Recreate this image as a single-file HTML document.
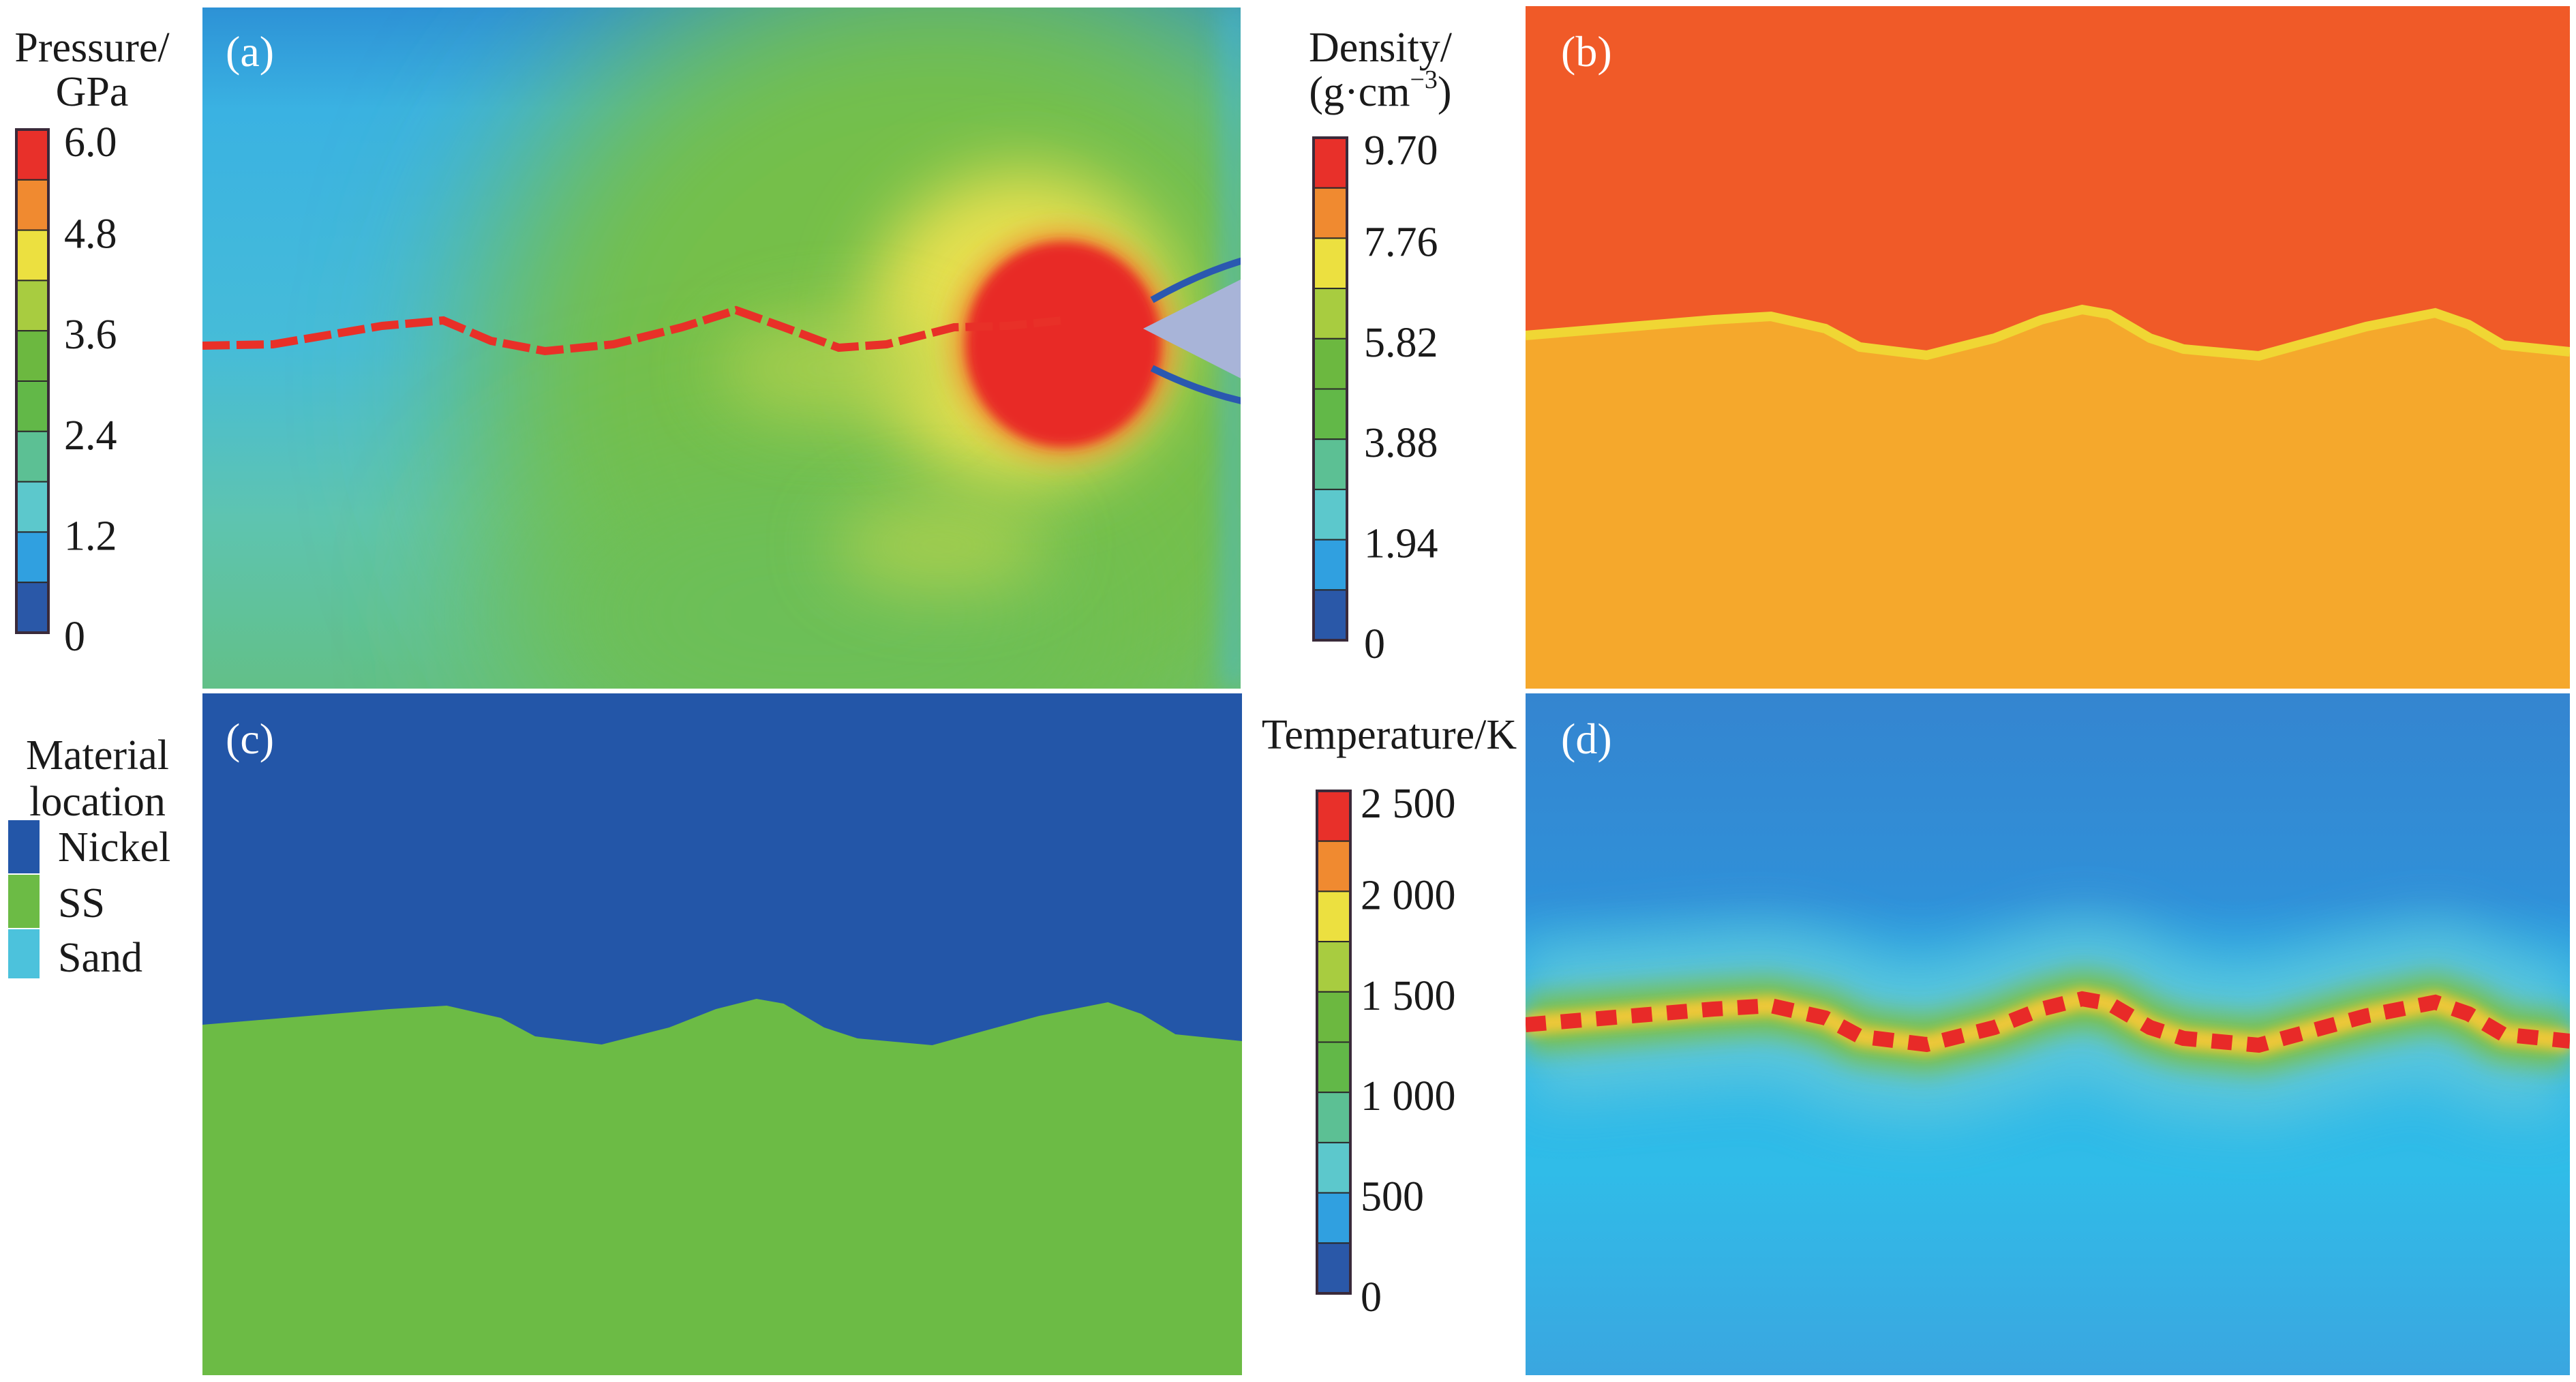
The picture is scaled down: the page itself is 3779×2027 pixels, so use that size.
<!DOCTYPE html>
<html><head><meta charset="utf-8"><style>
html,body{margin:0;padding:0;background:#fff}
svg{display:block}
text{font-family:"Liberation Serif","DejaVu Serif",serif;fill:#1a1a1a}
</style></head><body>
<svg id="fig" width="3779" height="2027" viewBox="0 0 3779 2027" xmlns="http://www.w3.org/2000/svg" font-family="Liberation Serif, DejaVu Serif, serif">
<defs>
<filter id="b8" filterUnits="userSpaceOnUse" x="0" y="0" width="3779" height="2027"><feGaussianBlur stdDeviation="8"/></filter>
<filter id="b20" filterUnits="userSpaceOnUse" x="0" y="0" width="3779" height="2027"><feGaussianBlur stdDeviation="20"/></filter>
<filter id="b40" filterUnits="userSpaceOnUse" x="0" y="0" width="3779" height="2027"><feGaussianBlur stdDeviation="40"/></filter>
<filter id="b50" filterUnits="userSpaceOnUse" x="0" y="0" width="3779" height="2027"><feGaussianBlur stdDeviation="50"/></filter>
<filter id="b120" filterUnits="userSpaceOnUse" x="0" y="0" width="3779" height="2027"><feGaussianBlur stdDeviation="120"/></filter>
<clipPath id="clipA"><rect x="297" y="11" width="1523" height="999"/></clipPath>
<clipPath id="clipB"><rect x="2238" y="9" width="1532" height="1001"/></clipPath>
<clipPath id="clipC"><rect x="297" y="1017" width="1525" height="1000"/></clipPath>
<clipPath id="clipD"><rect x="2238" y="1017" width="1532" height="1000"/></clipPath>
<linearGradient id="gA" x1="0" y1="0" x2="0" y2="1">
<stop offset="0" stop-color="#2d92d6"/><stop offset="0.15" stop-color="#3ab2e2"/><stop offset="0.5" stop-color="#46bcd8"/><stop offset="0.75" stop-color="#5ec4b0"/><stop offset="1" stop-color="#62c088"/></linearGradient>
<linearGradient id="gD" x1="0" y1="0" x2="0" y2="1">
<stop offset="0" stop-color="#3485d0"/><stop offset="0.3" stop-color="#3090d8"/><stop offset="0.45" stop-color="#2cb4e8"/><stop offset="0.7" stop-color="#30bce8"/><stop offset="1" stop-color="#3aa6e0"/></linearGradient>
</defs>

<!-- Panel A -->
<g id="panelA" clip-path="url(#clipA)">
<rect x="297" y="11" width="1523" height="999" fill="url(#gA)"/>
<ellipse cx="1380" cy="560" rx="680" ry="640" fill="#74bf48" filter="url(#b120)"/>
<ellipse cx="1200" cy="900" rx="450" ry="220" fill="#6cbf58" filter="url(#b120)"/>
<ellipse cx="1500" cy="480" rx="230" ry="230" fill="#e6e050" filter="url(#b50)"/>
<ellipse cx="1380" cy="800" rx="160" ry="70" fill="#c8d84c" opacity="0.6" filter="url(#b50)"/>
<ellipse cx="1230" cy="540" rx="180" ry="80" fill="#b8d450" opacity="0.7" filter="url(#b50)"/>
<rect x="1795" y="11" width="30" height="999" fill="#44b8e0" opacity="0.7" filter="url(#b20)"/>
<ellipse cx="1560" cy="505" rx="160" ry="165" fill="#f08a30" filter="url(#b20)"/>
<ellipse cx="1560" cy="505" rx="143" ry="150" fill="#e82a28" filter="url(#b8)"/>
<path d="M1690 440 Q1760 400 1830 380" stroke="#2a58b0" stroke-width="10" fill="none"/>
<path d="M1690 540 Q1760 575 1830 590" stroke="#2a58b0" stroke-width="10" fill="none"/>
<polygon points="1677,482 1830,405 1830,560" fill="#a8b4d8"/>
<path id="waveA" fill="none" stroke="#e83028" stroke-width="12" stroke-dasharray="40 10"/>
<text x="331" y="97" font-size="64" style="fill:#fff">(a)</text>
</g>

<!-- Panel B -->
<g clip-path="url(#clipB)">
<rect x="2238" y="9" width="1532" height="1001" fill="#f5a82c"/>
<path id="regionB" fill="#f05a28"/>
<path id="edgeB" fill="none" stroke="#f0d634" stroke-width="14"/>
<text x="2290" y="97" font-size="64" style="fill:#fff">(b)</text>
</g>

<!-- Panel C -->
<g clip-path="url(#clipC)">
<rect x="297" y="1017" width="1525" height="1000" fill="#6cbb45"/>
<path id="regionC" fill="#2356a8"/>
<text x="331" y="1105" font-size="64" style="fill:#fff">(c)</text>
</g>

<!-- Panel D -->
<g clip-path="url(#clipD)">
<rect x="2238" y="1017" width="1532" height="1000" fill="url(#gD)"/>
<path id="glowD" fill="none" stroke="#5ec8dc" stroke-width="230" filter="url(#b40)" opacity="0.9"/>
<path id="greenD" fill="none" stroke="#7cc040" stroke-width="80" filter="url(#b20)"/>
<path id="yellowD" fill="none" stroke="#f0c838" stroke-width="30" filter="url(#b8)"/>
<path id="redD" fill="none" stroke="#e82a28" stroke-width="22" stroke-dasharray="30 22"/>
<text x="2290" y="1105" font-size="64" style="fill:#fff">(d)</text>
</g>

<!-- Colorbar titles -->
<text x="135" y="90" font-size="62" text-anchor="middle">Pressure/</text>
<text x="135" y="155" font-size="62" text-anchor="middle">GPa</text>
<text x="2025" y="90" font-size="62" text-anchor="middle">Density/</text>
<text x="2025" y="155" font-size="62" text-anchor="middle">(g·cm<tspan font-size="38" dy="-26">−3</tspan><tspan dy="26">)</tspan></text>
<text x="2038" y="1098" font-size="62" text-anchor="middle">Temperature/K</text>

<g id="cbars"></g>

<!-- Material legend -->
<g>
<text x="143" y="1128" font-size="62" text-anchor="middle">Material</text>
<text x="143" y="1196" font-size="62" text-anchor="middle">location</text>
<rect x="12" y="1203" width="46" height="78" fill="#2356a8"/>
<rect x="12" y="1283" width="46" height="78" fill="#6cbb45"/>
<rect x="12" y="1363" width="46" height="72" fill="#4cc2dc"/>
<text x="85" y="1263" font-size="62">Nickel</text>
<text x="85" y="1345" font-size="62">SS</text>
<text x="85" y="1425" font-size="62">Sand</text>
</g>
</svg>
<script>
// interface data (fraction across panel, depth in px from panel top)
const waveFrac = [0,0.18,0.235,0.287,0.32,0.384,0.449,0.494,0.533,0.559,0.598,0.630,0.702,0.740,0.805,0.871,0.903,0.936,1.0];
const waveDepth = [486,463,458,476,503,515,490,463,448,455,490,506,516,500,473,453,470,500,510];
const aFrac = [0,0.068,0.173,0.232,0.278,0.33,0.396,0.462,0.514,0.56,0.613,0.659,0.724,0.776,0.828];
const aDepth = [496,494,467,459,489,504,494,469,444,469,499,494,469,467,459];
const pressureTicks = ["6.0","4.8","3.6","2.4","1.2","0"];
const densityTicks = ["9.70","7.76","5.82","3.88","1.94","0"];
const tempTicks = ["2 500","2 000","1 500","1 000","500","0"];
const palette = ["#e8302a","#f08a30","#ece040","#a8cc40","#6cb840","#62b848","#5cc094","#5cc8cc","#30a0e0","#2a58a8"];

const NS="http://www.w3.org/2000/svg";
function wavePath(x0,w,y0,fr,dp,shift){
  let d="";
  for(let i=0;i<fr.length;i++){d+=(i?"L":"M")+(x0+fr[i]*w).toFixed(1)+" "+(y0+dp[i]+shift).toFixed(1);}
  return d;
}
document.getElementById('waveA').setAttribute('d',wavePath(297,1523,11,aFrac,aDepth,0));
const wb=wavePath(2238,1532,9,waveFrac,waveDepth,-3);
document.getElementById('regionB').setAttribute('d',"M2238 9 "+wb.replace("M","L")+" L3770 9 Z");
document.getElementById('edgeB').setAttribute('d',wb);
const wc=wavePath(297,1525,1017,waveFrac,waveDepth,0);
document.getElementById('regionC').setAttribute('d',"M297 1017 "+wc.replace("M","L")+" L1822 1017 Z");
const wd=wavePath(2238,1532,1017,waveFrac,waveDepth,0);
['glowD','greenD','yellowD','redD'].forEach(id=>document.getElementById(id).setAttribute('d',wd));

function colorbar(name,x,y,w,h,ticks,lx){
  const g=document.createElementNS(NS,'g');
  
  
  const n=palette.length, sh=h/n;
  for(let i=0;i<n;i++){
    const r=document.createElementNS(NS,'rect');
    r.setAttribute('x',x);r.setAttribute('y',y+i*sh);r.setAttribute('width',w);r.setAttribute('height',sh);
    r.setAttribute('fill',palette[i]);r.setAttribute('stroke','#2a2a2a');r.setAttribute('stroke-width','2');
    
    
    g.appendChild(r);
  }
  const fr=document.createElementNS(NS,'rect');
  fr.setAttribute('x',x);fr.setAttribute('y',y);fr.setAttribute('width',w);fr.setAttribute('height',h);
  fr.setAttribute('fill','none');fr.setAttribute('stroke','#3a2a3a');fr.setAttribute('stroke-width','4');
  g.appendChild(fr);
  const step=h/(ticks.length-1);
  ticks.forEach((t,i)=>{
    const tx=document.createElementNS(NS,'text');
    let cy=y+i*step+5; if(i===0) cy=y+18;
    tx.setAttribute('x',lx);tx.setAttribute('y',cy+21);tx.setAttribute('font-size','62');
    tx.textContent=t;
    
    
    g.appendChild(tx);
  });
  document.getElementById('cbars').appendChild(g);
}
colorbar('pressure-colorbar',24,190,47,738,pressureTicks,94);
colorbar('density-colorbar',1927,202,49,737,densityTicks,2001);
colorbar('temperature-colorbar',1932,1160,49,737,tempTicks,1996);
</script>
</body></html>
